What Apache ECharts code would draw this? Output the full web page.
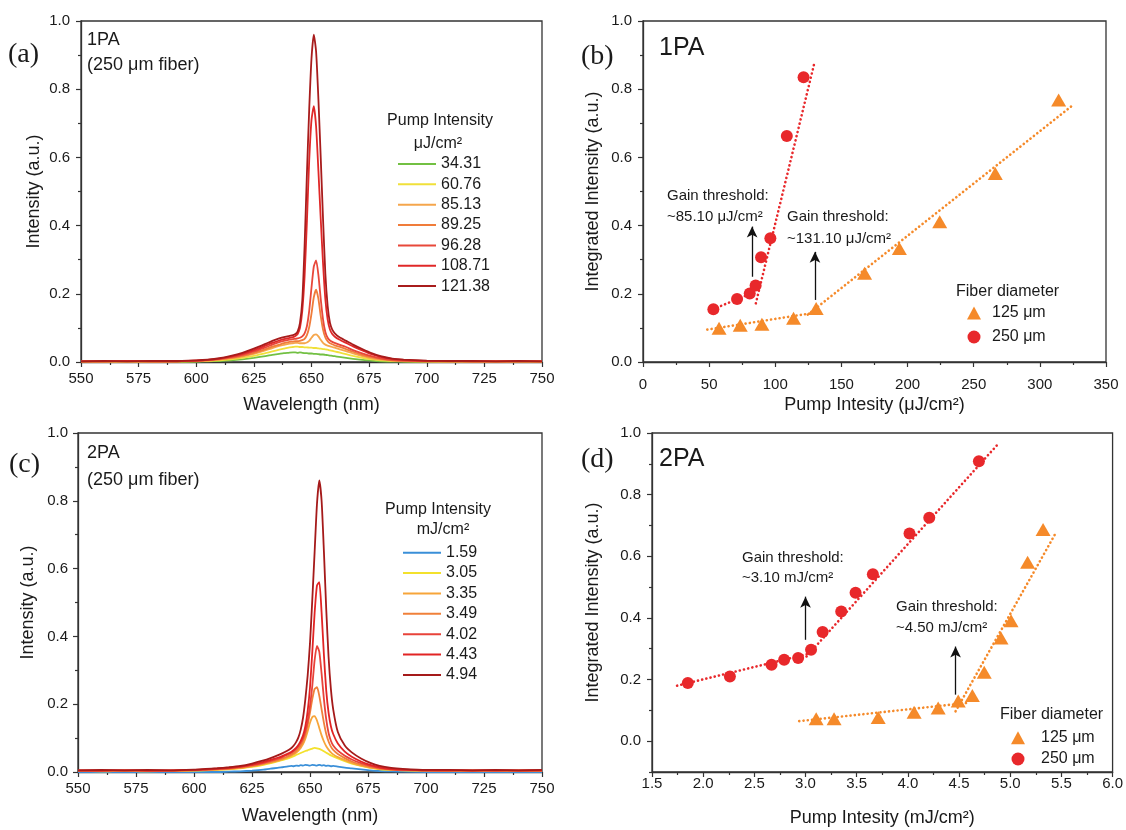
<!DOCTYPE html>
<html><head><meta charset="utf-8">
<script src="https://cdn.jsdelivr.net/npm/echarts@6/dist/echarts.min.js"></script>
<style>html,body{margin:0;padding:0;background:#fff}#c{width:1126px;height:830px}</style>
</head><body><div id="c"></div>
<script>
// ---------------- DATA ----------------
const WAVELENGTH = [550,560,570,580,590,600,605,610,615,620,625,630,633,636,638,640,642,643,644,645,646,647,648,649,650,651,652,653,654,655,656,657,658,659,660,662,665,668,672,676,680,685,690,700,710,720,730,740,750];

// Panel (a) 1PA spectra, legend values in uJ/cm2
const PUMP_1PA = ['34.31','60.76','85.13','89.25','96.28','108.71','121.38'];
const SPEC_1PA_34_31 = [0.001,0.000,0.001,0.000,0.001,0.001,0.002,0.003,0.005,0.008,0.012,0.017,0.021,0.024,0.026,0.027,0.028,0.028,0.027,0.028,0.027,0.026,0.026,0.025,0.025,0.024,0.024,0.023,0.022,0.022,0.021,0.020,0.019,0.018,0.017,0.015,0.012,0.009,0.006,0.004,0.002,0.001,0.001,0.001,0.000,0.001,0.000,0.001,0.000];
const SPEC_1PA_60_76 = [0.001,0.001,0.001,0.001,0.001,0.002,0.003,0.005,0.008,0.012,0.018,0.026,0.031,0.036,0.039,0.042,0.044,0.045,0.045,0.044,0.044,0.043,0.043,0.042,0.042,0.041,0.041,0.040,0.039,0.038,0.037,0.036,0.034,0.033,0.031,0.028,0.023,0.018,0.012,0.008,0.005,0.003,0.002,0.001,0.001,0.001,0.001,0.001,0.001];
const SPEC_1PA_85_13 = [0.002,0.001,0.002,0.001,0.002,0.003,0.004,0.007,0.011,0.016,0.024,0.034,0.041,0.047,0.050,0.053,0.055,0.056,0.056,0.055,0.055,0.055,0.057,0.062,0.071,0.079,0.081,0.075,0.065,0.056,0.051,0.048,0.046,0.044,0.042,0.038,0.032,0.025,0.017,0.011,0.007,0.004,0.003,0.002,0.001,0.002,0.001,0.002,0.001];
const SPEC_1PA_89_25 = [0.002,0.002,0.002,0.002,0.002,0.003,0.005,0.008,0.012,0.018,0.027,0.038,0.045,0.051,0.055,0.058,0.060,0.061,0.061,0.062,0.064,0.068,0.079,0.102,0.142,0.190,0.212,0.185,0.135,0.095,0.072,0.061,0.055,0.052,0.049,0.045,0.038,0.030,0.021,0.014,0.009,0.005,0.004,0.002,0.002,0.002,0.002,0.002,0.002];
const SPEC_1PA_96_28 = [0.002,0.002,0.002,0.002,0.002,0.004,0.006,0.009,0.014,0.021,0.031,0.043,0.051,0.058,0.062,0.065,0.067,0.068,0.069,0.071,0.075,0.084,0.105,0.150,0.218,0.280,0.298,0.255,0.185,0.125,0.088,0.071,0.063,0.059,0.056,0.051,0.044,0.035,0.025,0.017,0.011,0.006,0.004,0.003,0.002,0.002,0.002,0.002,0.002];
const SPEC_1PA_108_71 = [0.002,0.002,0.003,0.002,0.002,0.004,0.006,0.010,0.016,0.024,0.035,0.048,0.056,0.063,0.067,0.070,0.073,0.076,0.082,0.100,0.150,0.250,0.410,0.590,0.710,0.750,0.690,0.560,0.420,0.290,0.185,0.125,0.095,0.082,0.075,0.066,0.056,0.046,0.034,0.023,0.015,0.009,0.006,0.003,0.003,0.002,0.002,0.002,0.002];
const SPEC_1PA_121_38 = [0.002,0.003,0.002,0.003,0.003,0.005,0.007,0.011,0.018,0.027,0.039,0.053,0.062,0.069,0.073,0.076,0.079,0.082,0.090,0.115,0.180,0.340,0.550,0.740,0.890,0.960,0.910,0.770,0.600,0.420,0.260,0.165,0.115,0.095,0.085,0.073,0.062,0.051,0.038,0.026,0.017,0.010,0.007,0.004,0.003,0.003,0.002,0.003,0.002];

// Panel (c) 2PA spectra, legend values in mJ/cm2
const PUMP_2PA = ['1.59','3.05','3.35','3.49','4.02','4.43','4.94'];
const SPEC_2PA_1_59 = [0.000,0.000,0.000,0.000,0.000,0.000,0.000,0.000,0.001,0.002,0.004,0.007,0.010,0.012,0.014,0.016,0.018,0.017,0.019,0.018,0.020,0.019,0.021,0.020,0.019,0.021,0.020,0.019,0.021,0.019,0.020,0.018,0.019,0.017,0.018,0.016,0.013,0.011,0.008,0.005,0.003,0.002,0.001,0.000,0.000,0.000,0.000,0.000,0.000];
const SPEC_2PA_3_05 = [0.003,0.002,0.004,0.002,0.003,0.004,0.005,0.006,0.008,0.011,0.015,0.021,0.026,0.031,0.035,0.039,0.044,0.047,0.050,0.053,0.056,0.059,0.062,0.064,0.067,0.069,0.071,0.070,0.068,0.065,0.061,0.057,0.053,0.049,0.046,0.040,0.032,0.025,0.018,0.012,0.008,0.006,0.005,0.004,0.003,0.004,0.003,0.004,0.003];
const SPEC_2PA_3_35 = [0.003,0.004,0.003,0.004,0.003,0.005,0.006,0.007,0.009,0.012,0.017,0.023,0.028,0.033,0.037,0.042,0.048,0.052,0.057,0.063,0.071,0.082,0.098,0.120,0.145,0.162,0.165,0.152,0.130,0.108,0.090,0.076,0.066,0.058,0.052,0.044,0.035,0.027,0.019,0.013,0.009,0.007,0.005,0.004,0.004,0.003,0.004,0.003,0.004];
const SPEC_2PA_3_49 = [0.004,0.003,0.004,0.003,0.004,0.005,0.006,0.008,0.010,0.013,0.018,0.025,0.030,0.035,0.040,0.045,0.052,0.056,0.062,0.069,0.078,0.091,0.110,0.138,0.175,0.215,0.245,0.250,0.225,0.185,0.145,0.112,0.090,0.075,0.065,0.053,0.041,0.031,0.022,0.015,0.010,0.007,0.006,0.004,0.004,0.004,0.003,0.004,0.004];
const SPEC_2PA_4_02 = [0.004,0.004,0.005,0.004,0.004,0.006,0.007,0.009,0.011,0.015,0.020,0.027,0.033,0.039,0.044,0.050,0.057,0.062,0.068,0.076,0.086,0.100,0.120,0.150,0.195,0.255,0.330,0.372,0.355,0.290,0.215,0.155,0.115,0.092,0.078,0.063,0.048,0.037,0.026,0.018,0.012,0.008,0.006,0.005,0.004,0.005,0.004,0.005,0.004];
const SPEC_2PA_4_43 = [0.005,0.004,0.005,0.004,0.005,0.006,0.008,0.010,0.012,0.016,0.022,0.030,0.036,0.042,0.047,0.053,0.060,0.065,0.071,0.080,0.092,0.108,0.135,0.180,0.250,0.355,0.470,0.550,0.560,0.470,0.345,0.240,0.175,0.135,0.112,0.084,0.060,0.045,0.031,0.021,0.014,0.009,0.007,0.005,0.005,0.004,0.005,0.004,0.005];
const SPEC_2PA_4_94 = [0.005,0.006,0.005,0.006,0.005,0.007,0.009,0.011,0.014,0.018,0.025,0.034,0.041,0.049,0.055,0.062,0.071,0.078,0.088,0.102,0.125,0.160,0.215,0.285,0.380,0.510,0.650,0.790,0.860,0.800,0.650,0.480,0.340,0.245,0.185,0.118,0.078,0.058,0.040,0.027,0.018,0.012,0.009,0.006,0.006,0.005,0.006,0.005,0.006];

// Panel (b) 1PA integrated intensity vs pump (uJ/cm2)
const B_PUMP_250 = [53.2, 71.1, 80.7, 85.13, 89.25, 96.28, 108.71, 121.38];
const B_INT_250  = [0.155, 0.185, 0.201, 0.224, 0.307, 0.363, 0.663, 0.835];
const B_PUMP_125 = [57.5, 73.5, 89.9, 113.8, 130.9, 167.5, 193.8, 224.3, 266.3, 314.2];
const B_INT_125  = [0.099, 0.108, 0.111, 0.128, 0.157, 0.260, 0.333, 0.411, 0.553, 0.768];
const B_FIT_250_LOW  = [[50, 0.150], [86, 0.208]];
const B_FIT_250_HIGH = [[85.3, 0.172], [129.5, 0.876]];
const B_FIT_125_LOW  = [[48.6, 0.095], [127.3, 0.143]];
const B_FIT_125_HIGH = [[124.6, 0.139], [324.2, 0.751]];
const B_ARROWS = [[82.5, 0.250, 0.397], [130.0, 0.182, 0.323]];

// Panel (d) 2PA integrated intensity vs pump (mJ/cm2)
const D_PUMP_250 = [1.850, 2.261, 2.668, 2.791, 2.928, 3.054, 3.167, 3.349, 3.489, 3.658, 4.016, 4.209, 4.694];
const D_INT_250  = [0.189, 0.210, 0.248, 0.264, 0.270, 0.297, 0.354, 0.421, 0.482, 0.542, 0.674, 0.725, 0.908];
const D_PUMP_125 = [3.104, 3.279, 3.710, 4.061, 4.296, 4.492, 4.630, 4.746, 4.910, 5.008, 5.170, 5.321];
const D_INT_125  = [0.073, 0.073, 0.077, 0.094, 0.108, 0.130, 0.148, 0.224, 0.335, 0.391, 0.581, 0.687];
const D_FIT_250_LOW  = [[1.745, 0.180], [3.06, 0.286]];
const D_FIT_250_HIGH = [[3.01, 0.275], [4.886, 0.966]];
const D_FIT_125_LOW  = [[2.938, 0.065], [4.574, 0.124]];
const D_FIT_125_HIGH = [[4.466, 0.097], [5.442, 0.674]];
const D_ARROWS = [[3.0, 0.329, 0.469], [4.466, 0.151, 0.307]];

// Axis ticks
const WL_TICKS = [550,575,600,625,650,675,700,725,750];
const INT_TICKS = [0,0.2,0.4,0.6,0.8,1.0];
const B_X_TICKS = [0,50,100,150,200,250,300,350];
const D_X_TICKS = [1.5,2.0,2.5,3.0,3.5,4.0,4.5,5.0,5.5,6.0];
const D_Y_TICKS = [0,0.2,0.4,0.6,0.8,1.0];
const D_Y_MINOR = [-0.1,0.1,0.3,0.5,0.7,0.9];
const D_Y_RANGE = [-0.1, 1.0];

// ---------------- STYLE ----------------
const FONT = '"Liberation Sans", Arial, Helvetica, sans-serif';
const SERIF = '"Liberation Serif", "Times New Roman", serif';
const AXIS_COLOR = '#333';
const TEXT_COLOR = '#1a1a1a';
const COLORS_1PA = ['#72c043','#f0e03a','#f5a64c','#f07c3a','#e8483a','#e02828','#a81c1c'];
const COLORS_2PA = ['#3a8fd8','#f3e12c','#f7a53a','#f0803a','#e8433a','#e22424','#a51a1a'];
const RED = '#e8282b', ORANGE = '#f58a2a';

const SPEC_1PA = [SPEC_1PA_34_31,SPEC_1PA_60_76,SPEC_1PA_85_13,SPEC_1PA_89_25,SPEC_1PA_96_28,SPEC_1PA_108_71,SPEC_1PA_121_38];
const SPEC_2PA = [SPEC_2PA_1_59,SPEC_2PA_3_05,SPEC_2PA_3_35,SPEC_2PA_3_49,SPEC_2PA_4_02,SPEC_2PA_4_43,SPEC_2PA_4_94];

function zip(xs, ys) { return xs.map((x, i) => [x, ys[i]]); }

function valueAxis(o) {
  const ticks = o.ticks;
  return {
    type: 'value', gridIndex: o.grid,
    min: o.min !== undefined ? o.min : ticks[0],
    max: o.max !== undefined ? o.max : ticks[ticks.length - 1],
    interval: o.custom ? undefined : (ticks[1] - ticks[0]),
    name: o.name, nameLocation: 'middle', nameGap: o.nameGap,
    nameTextStyle: { fontFamily: FONT, fontSize: 18, color: TEXT_COLOR },
    axisLine: { show: true, onZero: false, lineStyle: { color: AXIS_COLOR, width: 1.3 } },
    axisTick: Object.assign({ show: true, length: 5, inside: false, lineStyle: { color: AXIS_COLOR, width: 1.2 } },
      o.custom ? { customValues: ticks } : {}),
    minorTick: { show: !o.custom, splitNumber: 2, length: 3, lineStyle: { color: AXIS_COLOR, width: 1.2 } },
    splitLine: { show: false }, minorSplitLine: { show: false },
    axisLabel: Object.assign({ fontFamily: FONT, fontSize: 15, color: TEXT_COLOR, margin: o.margin,
      formatter: o.fmt, showMinLabel: true, showMaxLabel: true, hideOverlap: false },
      o.custom ? { customValues: ticks } : {})
  };
}
const f1 = v => Number(v).toFixed(1);
const f0 = v => String(Math.round(v));

const grids = [
  { left: 81, top: 21, width: 461, height: 341 },
  { left: 643, top: 21, width: 463, height: 341 },
  { left: 78, top: 433, width: 464, height: 339 },
  { left: 652, top: 433, width: 462, height: 339 }
].map(g => Object.assign({ show: true, borderColor: AXIS_COLOR, borderWidth: 1.3, backgroundColor: 'transparent', containLabel: false }, g));

const xAxes = [
  valueAxis({ grid: 0, ticks: WL_TICKS, name: 'Wavelength (nm)', nameGap: 34, margin: 9, fmt: f0 }),
  valueAxis({ grid: 1, ticks: B_X_TICKS, name: 'Pump Intesity (μJ/cm²)', nameGap: 34, margin: 15, fmt: f0 }),
  valueAxis({ grid: 2, ticks: WL_TICKS, name: 'Wavelength (nm)', nameGap: 35, margin: 9, fmt: f0 }),
  valueAxis({ grid: 3, ticks: D_X_TICKS, name: 'Pump Intesity (mJ/cm²)', nameGap: 37, margin: 4, fmt: f1 })
];
const yAxes = [
  valueAxis({ grid: 0, ticks: INT_TICKS, name: 'Intensity (a.u.)', nameGap: 38, margin: 11, fmt: f1 }),
  valueAxis({ grid: 1, ticks: INT_TICKS, name: 'Integrated Intensity (a.u.)', nameGap: 41, margin: 11, fmt: f1 }),
  valueAxis({ grid: 2, ticks: INT_TICKS, name: 'Intensity (a.u.)', nameGap: 41, margin: 10, fmt: f1 }),
  valueAxis({ grid: 3, ticks: D_Y_TICKS, min: D_Y_RANGE[0], max: D_Y_RANGE[1], custom: true, name: 'Integrated Intensity (a.u.)', nameGap: 50, margin: 11, fmt: f1 }),
  {
    type: 'value', gridIndex: 3, min: D_Y_RANGE[0], max: D_Y_RANGE[1], position: 'left', offset: 0,
    axisLine: { show: false }, axisLabel: { show: false }, splitLine: { show: false },
    axisTick: { show: true, length: 3, customValues: D_Y_MINOR, lineStyle: { color: AXIS_COLOR, width: 1.2 } }
  }
];

const series = [];
PUMP_1PA.forEach((name, i) => series.push({
  type: 'line', name, xAxisIndex: 0, yAxisIndex: 0, data: zip(WAVELENGTH, SPEC_1PA[i]),
  showSymbol: false, symbol: 'none', smooth: 0.2, silent: true,
  lineStyle: { width: 1.8, color: COLORS_1PA[i] }, itemStyle: { color: COLORS_1PA[i] }
}));
PUMP_2PA.forEach((name, i) => series.push({
  type: 'line', name, xAxisIndex: 2, yAxisIndex: 2, data: zip(WAVELENGTH, SPEC_2PA[i]),
  showSymbol: false, symbol: 'none', smooth: 0.2, silent: true,
  lineStyle: { width: 1.8, color: COLORS_2PA[i] }, itemStyle: { color: COLORS_2PA[i] }
}));

function fit(data, color, xi, yi, arrows) {
  const s = {
    type: 'line', xAxisIndex: xi, yAxisIndex: yi, data, showSymbol: false, symbol: 'none', silent: true,
    lineStyle: { width: 2.6, color, type: [0.1, 4.2], cap: 'round' }, z: 1
  };
  if (arrows) {
    s.markLine = {
      silent: true, symbol: ['none', 'arrow'], symbolSize: [8, 11], animation: false,
      label: { show: false },
      lineStyle: { color: '#111', width: 1.3, type: 'solid' },
      data: arrows.map(a => [{ coord: [a[0], a[1]] }, { coord: [a[0], a[2]] }])
    };
  }
  return s;
}
series.push(fit(B_FIT_250_LOW, RED, 1, 1, B_ARROWS));
series.push(fit(B_FIT_250_HIGH, RED, 1, 1));
series.push(fit(B_FIT_125_LOW, ORANGE, 1, 1));
series.push(fit(B_FIT_125_HIGH, ORANGE, 1, 1));
series.push(fit(D_FIT_250_LOW, RED, 3, 3, D_ARROWS));
series.push(fit(D_FIT_250_HIGH, RED, 3, 3));
series.push(fit(D_FIT_125_LOW, ORANGE, 3, 3));
series.push(fit(D_FIT_125_HIGH, ORANGE, 3, 3));

function scat(name, xs, ys, xi, yi, symbol, size, color) {
  return { type: 'scatter', name, xAxisIndex: xi, yAxisIndex: yi, data: zip(xs, ys), symbol, symbolSize: size,
    itemStyle: { color, opacity: 1 }, silent: true, z: 3 };
}
series.push(scat('125 μm', B_PUMP_125, B_INT_125, 1, 1, 'triangle', [15, 13], ORANGE));
series.push(scat('250 μm', B_PUMP_250, B_INT_250, 1, 1, 'circle', 12, RED));
series.push(scat('125 μm', D_PUMP_125, D_INT_125, 3, 3, 'triangle', [15, 13], ORANGE));
series.push(scat('250 μm', D_PUMP_250, D_INT_250, 3, 3, 'circle', 12, RED));

const legendText = (pad) => ({ fontFamily: FONT, fontSize: 16, color: TEXT_COLOR, lineHeight: 20, padding: [0, 0, 0, pad] });
const legends = [
  { data: PUMP_1PA, orient: 'vertical', left: 398, top: 154, itemWidth: 38, itemHeight: 2, itemGap: 0.35, icon: 'rect',
    selectedMode: false, padding: 0, textStyle: legendText(0) },
  { data: PUMP_2PA, orient: 'vertical', left: 403, top: 542.7, itemWidth: 38, itemHeight: 2, itemGap: 0.38, icon: 'rect',
    selectedMode: false, padding: 0, textStyle: legendText(0) },
  { data: [{ name: '125 μm', icon: 'triangle' }, { name: '250 μm', icon: 'circle' }], orient: 'vertical', left: 967, top: 303,
    itemWidth: 14, itemHeight: 13, itemGap: 4, selectedMode: false, padding: 0, textStyle: legendText(6) },
  { data: [{ name: '125 μm', icon: 'triangle' }, { name: '250 μm', icon: 'circle' }], orient: 'vertical', left: 1011, top: 727.7,
    itemWidth: 14, itemHeight: 13, itemGap: 1.3, selectedMode: false, padding: 0, textStyle: legendText(11) }
];

function txt(text, x, y, size, family, align) {
  return { type: 'text', x, y, silent: true, z: 10,
    style: { text, x: 0, y: 0, font: size + 'px ' + (family || FONT), fill: TEXT_COLOR,
      textAlign: align || 'left', textVerticalAlign: 'middle', align: align || 'left', verticalAlign: 'middle' } };
}
const graphics = [
  txt('(a)', 8, 55, 28, SERIF), txt('(b)', 581, 57, 28, SERIF),
  txt('(c)', 9, 465, 28, SERIF), txt('(d)', 581, 460, 28, SERIF),
  txt('1PA', 87, 40, 18), txt('(250 μm fiber)', 87, 65, 18),
  txt('2PA', 87, 453, 18), txt('(250 μm fiber)', 87, 480, 18),
  txt('1PA', 659, 48, 25), txt('2PA', 659, 459, 25),
  txt('Pump Intensity', 440, 121, 16, FONT, 'center'), txt('μJ/cm²', 438, 144, 16, FONT, 'center'),
  txt('Pump Intensity', 438, 510, 16, FONT, 'center'), txt('mJ/cm²', 443, 530, 16, FONT, 'center'),
  txt('Fiber diameter', 956, 292, 16), txt('Fiber diameter', 1000, 715, 16),
  txt('Gain threshold:', 667, 196, 15), txt('~85.10 μJ/cm²', 667, 217, 15),
  txt('Gain threshold:', 787, 217, 15), txt('~131.10 μJ/cm²', 787, 239, 15),
  txt('Gain threshold:', 742, 558, 15), txt('~3.10 mJ/cm²', 742, 578, 15),
  txt('Gain threshold:', 896, 607, 15), txt('~4.50 mJ/cm²', 896, 628, 15)
];

const chart = echarts.init(document.getElementById('c'), null, { renderer: 'canvas' });
chart.setOption({
  backgroundColor: '#ffffff',
  animation: false,
  textStyle: { fontFamily: FONT },
  grid: grids, xAxis: xAxes, yAxis: yAxes,
  legend: legends, series, graphic: graphics
});
</script></body></html>
